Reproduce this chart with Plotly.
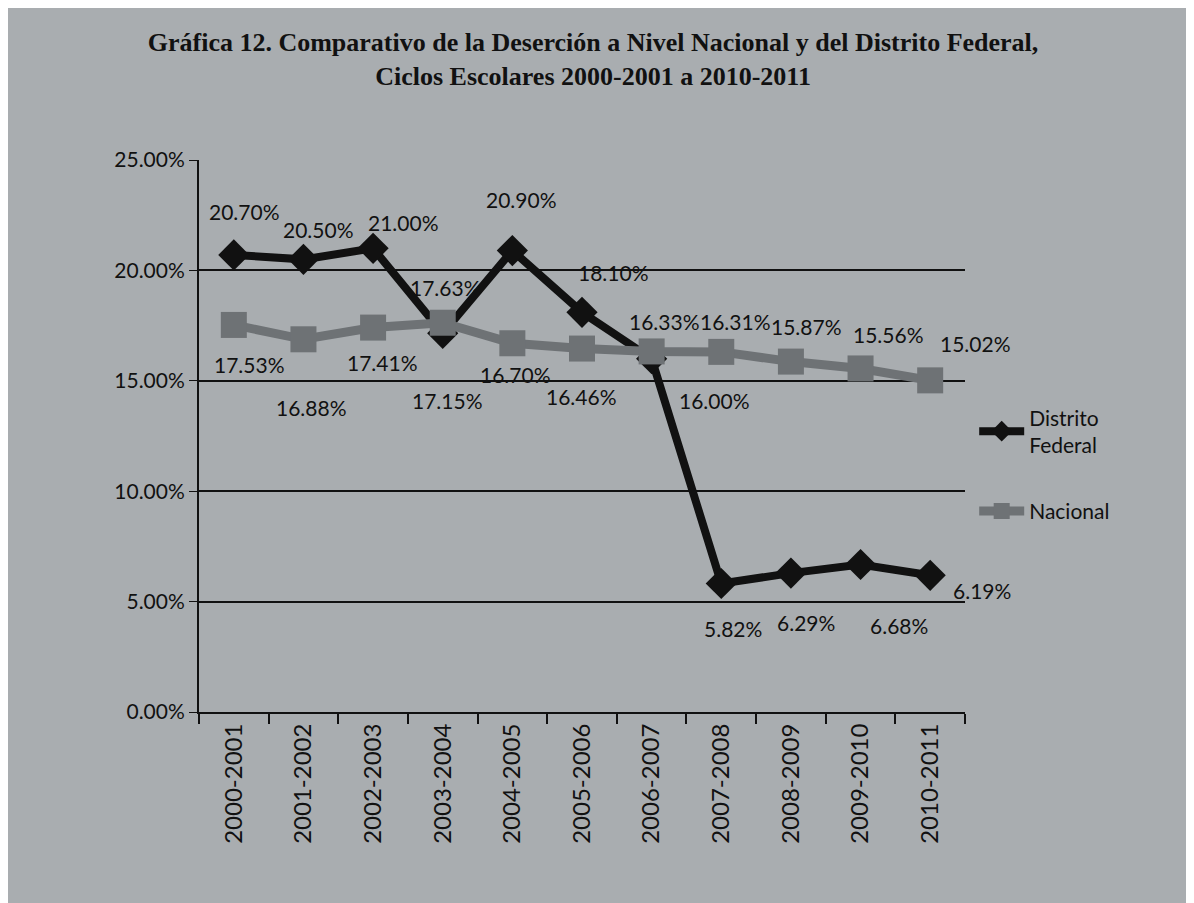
import plotly.graph_objects as go

categories = ["2000-2001", "2001-2002", "2002-2003", "2003-2004", "2004-2005", "2005-2006",
              "2006-2007", "2007-2008", "2008-2009", "2009-2010", "2010-2011"]
distrito_federal = [20.70, 20.50, 21.00, 17.15, 20.90, 18.10, 16.00, 5.82, 6.29, 6.68, 6.19]
nacional = [17.53, 16.88, 17.41, 17.63, 16.70, 16.46, 16.33, 16.31, 15.87, 15.56, 15.02]
y_ticks = [0, 5, 10, 15, 20, 25]
y_tick_labels = ["0.00%", "5.00%", "10.00%", "15.00%", "20.00%", "25.00%"]

# label offsets in pixels (dx right, dy up) -- styling only
df_dx = [11, 15, 30, 5, 9, 31, 63, 12, 15, 38, 52]
df_dy = [43, 30, 26, -67, 51, 40, -42, -45, -49, -61, -15]
nac_dx = [16, 8, 9, 3, 3, -1, 13, 14, 16, 28, 45]
nac_dy = [-40, -68, -35, 35, -31, -48, 30, 30, 35, 34, 37]

font_main = "Lato, Open Sans, sans-serif"
ink = "#111111"

fig = go.Figure()
fig.add_trace(go.Scatter(
    x=categories, y=distrito_federal, name="Distrito<br>Federal", legendgroup="df",
    mode="lines+markers",
    line=dict(color=ink, width=8),
    marker=dict(symbol="diamond", size=24, color=ink),
))
fig.add_trace(go.Scatter(
    x=categories, y=nacional, name="Nacional", legendgroup="nac",
    mode="lines+markers",
    line=dict(color="#6e7275", width=9),
    marker=dict(symbol="square", size=26, color="#6e7275"),
))

annotations = []
for c, v, dx, dy in zip(categories, distrito_federal, df_dx, df_dy):
    annotations.append(dict(x=c, y=v, xref="x", yref="y", text=f"{v:.2f}%", showarrow=False,
                            xshift=dx, yshift=dy, font=dict(size=21, color=ink, family=font_main)))
for c, v, dx, dy in zip(categories, nacional, nac_dx, nac_dy):
    annotations.append(dict(x=c, y=v, xref="x", yref="y", text=f"{v:.2f}%", showarrow=False,
                            xshift=dx, yshift=dy, font=dict(size=21, color=ink, family=font_main)))

fig.update_layout(
    width=1194, height=903,
    paper_bgcolor="#a9adb0", plot_bgcolor="#a9adb0",
    margin=dict(l=191, r=237, t=152, b=199),
    title=dict(
        text="Gráfica 12. Comparativo de la Deserción a Nivel Nacional y del Distrito Federal,<br>Ciclos Escolares 2000-2001 a 2010-2011",
        x=0.49, xanchor="center", y=0.952, yanchor="top",
        font=dict(family="Liberation Serif, serif", size=26, color=ink, weight="bold"),
    ),
    font=dict(family=font_main, size=21, color=ink),
    legend=dict(x=1.012, y=0.57, xanchor="left", yanchor="top",
                bgcolor="rgba(0,0,0,0)", font=dict(size=21, color=ink),
                itemwidth=45, tracegroupgap=36),
    showlegend=True,
    annotations=annotations,
)
fig.update_xaxes(
    type="category", showgrid=False, showline=True, linecolor=ink, linewidth=2,
    ticks="outside", tickson="boundaries", ticklen=10, tickcolor=ink, tickwidth=2,
    tickangle=-90, tickfont=dict(size=24, color=ink, family=font_main),
    range=[-0.5, 10.5],
)
fig.update_yaxes(
    range=[0, 25], tickvals=y_ticks, ticktext=y_tick_labels,
    showgrid=True, gridcolor=ink, gridwidth=1.5,
    showline=True, linecolor=ink, linewidth=2, zeroline=False,
    ticks="outside", ticklen=8, tickcolor=ink,
    tickfont=dict(size=21, color=ink),
)

fig.write_html("out.html")
